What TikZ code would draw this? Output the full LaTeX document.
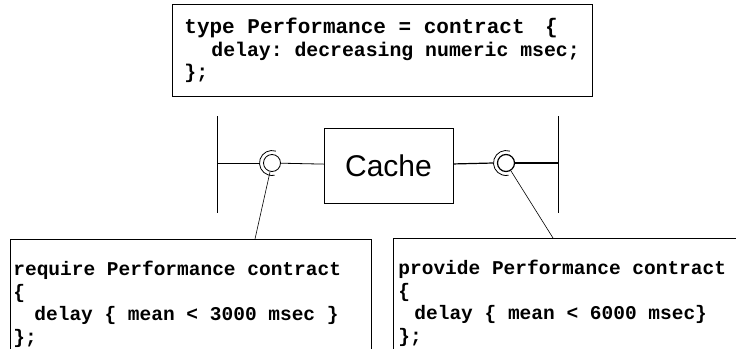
\documentclass[tikz,border=0pt]{standalone}
\usepackage{fontspec}
\newfontfamily\codefont{Liberation Mono}
\newfontfamily\labelfont{Liberation Sans}
\usepackage{tikz}
\usetikzlibrary{positioning}
% full-width blanks, as in a typewriter listing
\newcommand{\monospaces}{\spaceskip=0.6em\relax\xspaceskip=0.6em\relax}
\tikzset{codebox/.style={draw, rectangle, align=left, font=\codefont\bfseries\fontsize{19.5}{22.5}\selectfont}}
\tikzset{ball/.style={draw, circle, minimum size=17pt, inner sep=0pt}}
\tikzset{heavy/.style={line width=1.2pt}}

\begin{document}
\begin{tikzpicture}[x=1pt, y=1pt, line width=0.8pt]
	\clip (0,0) rectangle (736,-348);

	% contract type
	\node[codebox, font=\codefont\bfseries\fontsize{19.8}{22.5}\selectfont, anchor=north west, text width=396pt, inner xsep=12pt, minimum height=92pt] (perftype) at (172,-4)
		{\monospaces{\fontsize{21}{22.5}\selectfont\monospaces type Performance = contract\hspace*{8pt} \{}\\\hspace*{27pt}delay: decreasing numeric msec;\\\};};

	% MIDDLE
	\coordinate (westtop) at (217,-116);	\coordinate (westmid) at (217,-163);	\coordinate (westbot) at (217,-213);
	\coordinate (easttop) at (558,-116);	\coordinate (eastmid) at (558,-163);	\coordinate (eastbot) at (558,-213);

	\node[draw, rectangle, minimum width=129pt, minimum height=75pt, font=\labelfont\fontsize{30}{34}\selectfont] (cache) at (388.5,-165.5) {Cache};

	\node[ball] (reqball) at (272,-163) {};		\coordinate (reqcup) at (259.5,-163);
	\node[ball, heavy] (provball) at (506,-163) {};	\coordinate (provcup) at (493.5,-163);

	% sockets
	\draw (reqball.center) ++(72:12.5) arc[start angle=72, end angle=282, radius=12.5];
	\draw (provball.center) ++(72:12.5) arc[start angle=72, end angle=282, radius=12.5];

	% bars
	\draw (westtop) -- (westbot);
	\draw (easttop) -- (eastbot);

	% Horizontals
	\draw (westmid) -- (reqcup);
	\draw (reqball) -- (cache);
	\draw[heavy] (cache) -- (provcup);
	\draw[heavy] (provball) -- (eastmid);

	% contracts of the ports
	\node[codebox, anchor=north west, text width=355pt, inner xsep=2pt, minimum width=361pt, minimum height=130pt] (reqbox) at (10,-239)
		{\monospaces require Performance contract\\\{\\\hspace*{21pt}delay \{ mean < 3000 msec \}\\\};};
	\node[codebox, anchor=north west, text width=360pt, inner xsep=5pt, minimum height=130pt] (provbox) at (393,-238)
		{\monospaces provide Performance contract\\\{\\\hspace*{16pt}delay \{ mean < 6000 msec\}\\\};};

	\coordinate (reqpin) at (255,-239);
	\coordinate (provpin) at (553,-238);

	% attachments
	\draw[line width=0.6pt] (reqball) -- (reqpin);
	\draw[line width=0.6pt] (provball) -- (provpin);
\end{tikzpicture}
\end{document}
